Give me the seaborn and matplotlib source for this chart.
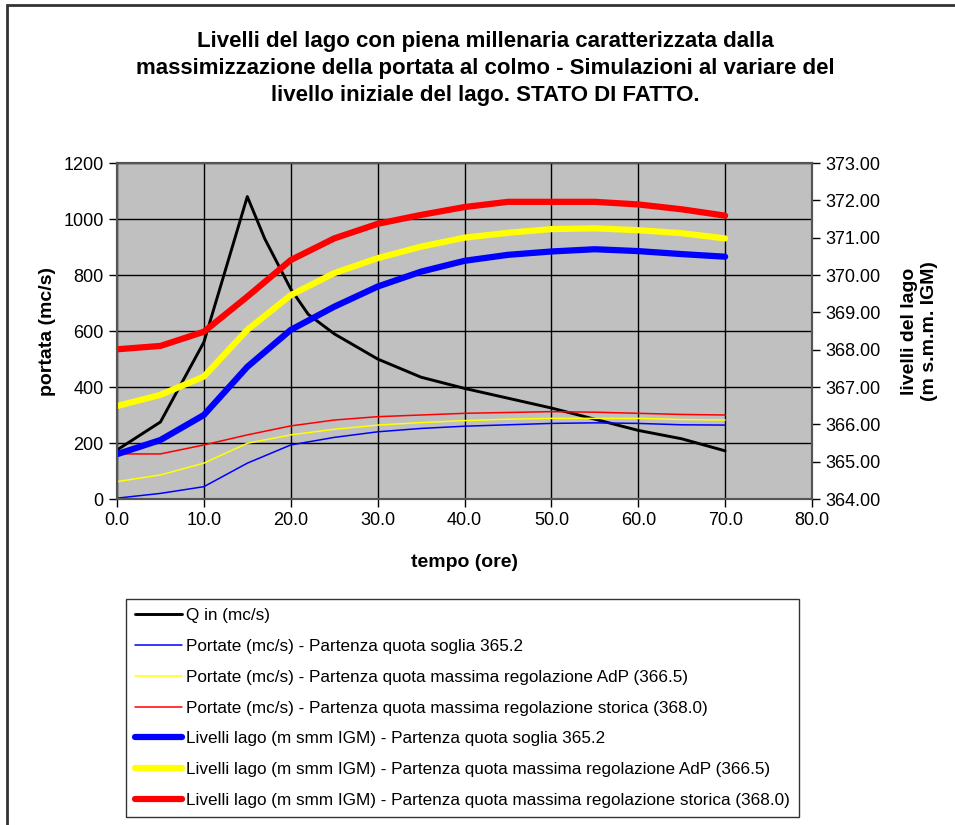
import numpy as np
import pandas as pd
import seaborn as sns
import matplotlib.pyplot as plt
from matplotlib.patches import Rectangle

sns.set_style("white")
plt.rcParams["font.family"] = ["Liberation Sans", "DejaVu Sans"]
plt.rcParams["text.color"] = "black"
plt.rcParams["axes.labelcolor"] = "black"

# tempo (ore)
t = [0, 5, 10, 15, 20, 25, 30, 35, 40, 45, 50, 55, 60, 65, 70]

# Q in (mc/s) - idrogramma di piena
t_q = [0, 5, 10, 15, 17, 20, 22, 25, 30, 35, 40, 45, 50, 55, 60, 65, 70]
q_in = [175, 275, 560, 1080, 930, 750, 660, 590, 500, 435, 395, 360, 325, 285, 245, 215, 172]

# portate uscenti (mc/s)
port_3652 = [3, 20, 44, 128, 193, 220, 240, 252, 260, 265, 270, 272, 270, 265, 264]
port_3665 = [62, 86, 128, 199, 229, 249, 264, 273, 280, 285, 288, 288, 288, 284, 282]
port_3680 = [161, 161, 193, 229, 261, 282, 294, 300, 306, 309, 312, 310, 306, 302, 300]

# livelli lago (m s.m.m. IGM)
liv_3652 = [365.20, 365.58, 366.25, 367.54, 368.53, 369.15, 369.69, 370.09, 370.38,
            370.54, 370.63, 370.69, 370.64, 370.56, 370.49]
liv_3665 = [366.49, 366.79, 367.28, 368.53, 369.46, 370.05, 370.45, 370.76, 371.00,
            371.13, 371.23, 371.25, 371.20, 371.12, 370.98]
liv_3680 = [368.01, 368.10, 368.48, 369.42, 370.40, 370.98, 371.37, 371.61, 371.82,
            371.96, 371.96, 371.96, 371.89, 371.76, 371.59]

labels = [
    "Q in (mc/s)",
    "Portate (mc/s) - Partenza quota soglia 365.2",
    "Portate (mc/s) - Partenza quota massima regolazione AdP (366.5)",
    "Portate (mc/s) - Partenza quota massima regolazione storica (368.0)",
    "Livelli lago (m smm IGM) - Partenza quota soglia 365.2",
    "Livelli lago (m smm IGM) - Partenza quota massima regolazione AdP (366.5)",
    "Livelli lago (m smm IGM) - Partenza quota massima regolazione storica (368.0)",
]

fig = plt.figure(figsize=(9.55, 8.25), dpi=100)
fig.add_artist(Rectangle((7 / 955, -0.1), 1.2, 1.1 - 5 / 825, transform=fig.transFigure,
                         fill=False, edgecolor="#333333", linewidth=2))

ax = fig.add_axes([117 / 955, 1 - 499 / 825, (812 - 117) / 955, (499 - 163) / 825])
ax2 = ax.twinx()
ax.set_facecolor("#C0C0C0")

sns.lineplot(x=t_q, y=q_in, ax=ax, color="black", linewidth=2.1, label=labels[0])
sns.lineplot(x=t, y=port_3652, ax=ax, color="blue", linewidth=1.1, label=labels[1])
sns.lineplot(x=t, y=port_3665, ax=ax, color="yellow", linewidth=1.1, label=labels[2])
sns.lineplot(x=t, y=port_3680, ax=ax, color="red", linewidth=1.1, label=labels[3])
sns.lineplot(x=t, y=liv_3652, ax=ax2, color="blue", linewidth=4.5, label=labels[4])
sns.lineplot(x=t, y=liv_3665, ax=ax2, color="yellow", linewidth=4.5, label=labels[5])
sns.lineplot(x=t, y=liv_3680, ax=ax2, color="red", linewidth=4.5, label=labels[6])

ax.set_xlim(0, 80)
ax.set_ylim(0, 1200)
ax2.set_ylim(364, 373)
ax.set_xticks(np.arange(0, 81, 10))
ax.set_xticklabels([f"{v:.1f}" for v in np.arange(0, 81, 10)])
ax.set_yticks(np.arange(0, 1201, 200))
ax2.set_yticks(np.arange(364, 374, 1))
ax2.set_yticklabels([f"{v:.2f}" for v in np.arange(364, 374, 1)])
ax.grid(True, color="black", linewidth=1)
ax.set_axisbelow(True)

for a in (ax, ax2):
    a.tick_params(labelsize=13, length=6, width=1, colors="black", direction="out")
    for s in a.spines.values():
        s.set_color("#555555")
        s.set_linewidth(1.5)
ax.tick_params(left=True, bottom=True)
ax2.tick_params(right=True)

ax.set_xlabel("tempo (ore)", fontsize=14, fontweight="bold", labelpad=18)
ax.set_ylabel("portata (mc/s)", fontsize=14, fontweight="bold", labelpad=5)
ax2.set_ylabel("livelli del lago\n(m s.m.m. IGM)", fontsize=14, fontweight="bold", labelpad=15)

fig.text(0.508, 0.962,
         "Livelli del lago con piena millenaria caratterizzata dalla\n"
         "massimizzazione della portata al colmo - Simulazioni al variare del\n"
         "livello iniziale del lago. STATO DI FATTO.",
         ha="center", va="top", fontsize=16, fontweight="bold", linespacing=1.37, color="black")

h1, l1 = ax.get_legend_handles_labels()
h2, l2 = ax2.get_legend_handles_labels()
ax.get_legend().remove()
ax2.get_legend().remove()
leg = fig.legend(h1 + h2, l1 + l2, loc="upper left", bbox_to_anchor=(126 / 955, 1 - 599 / 825),
                 fontsize=12.3, frameon=True, fancybox=False, edgecolor="black",
                 handlelength=2.75, handletextpad=0.2, borderpad=0.55, labelspacing=0.92,
                 borderaxespad=0, labelcolor="black")
leg.get_frame().set_linewidth(1)

fig.savefig("out.png", dpi=100)
